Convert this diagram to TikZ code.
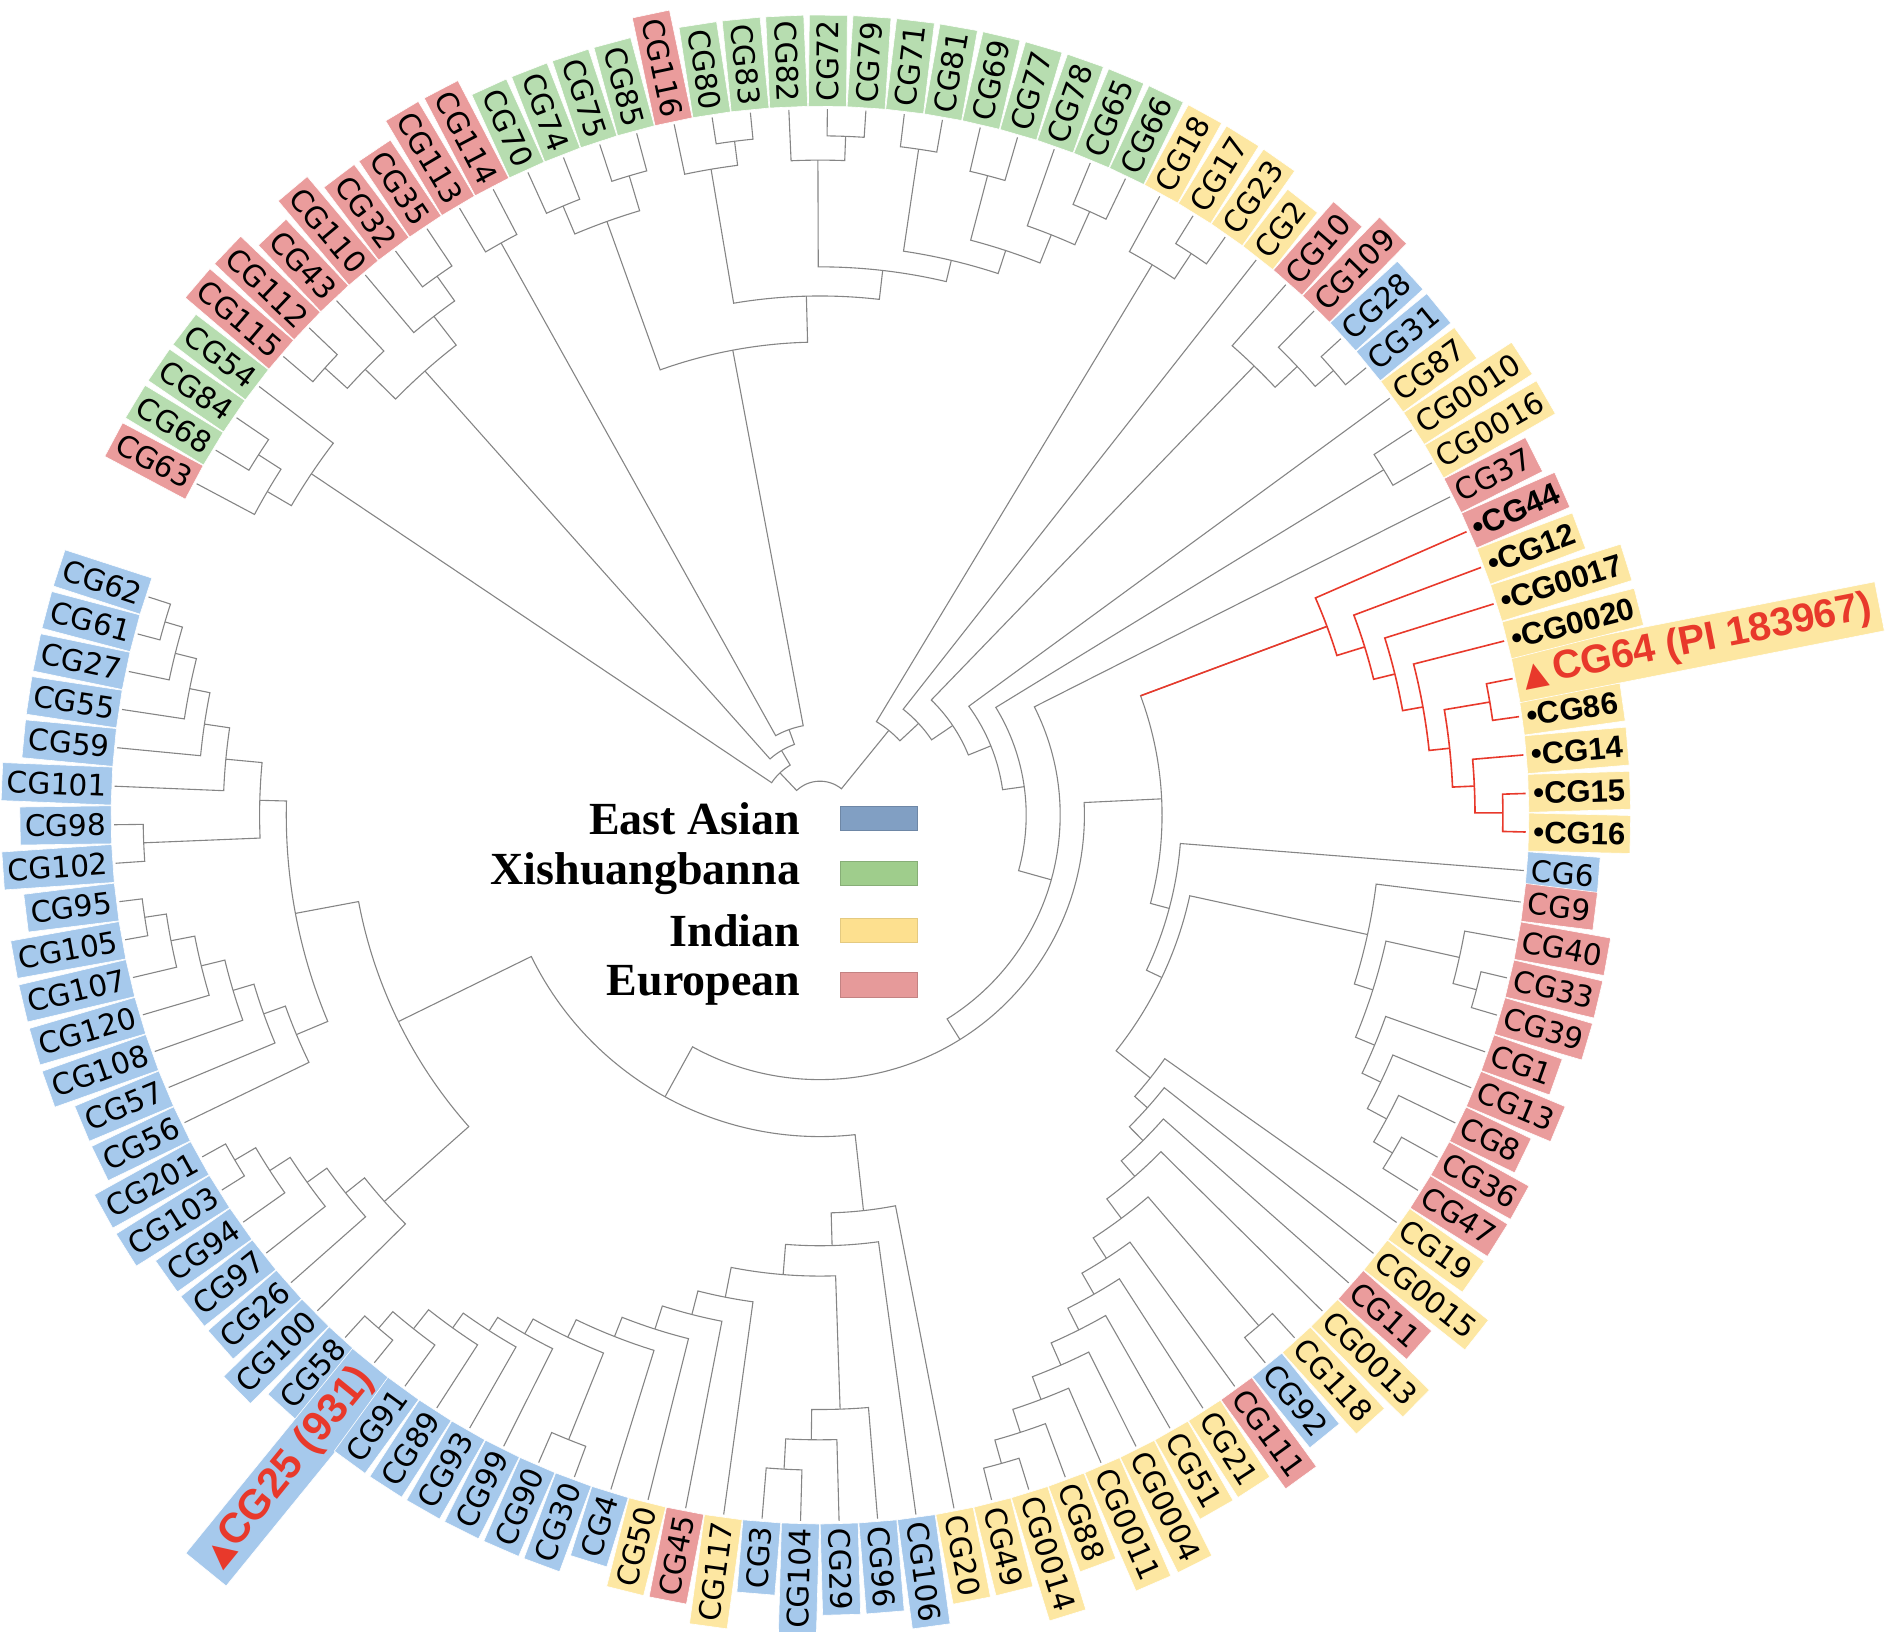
\documentclass[tikz,border=0pt]{standalone}
\usepackage{fontspec}
\newfontfamily\labf{DejaVu Sans}
\newfontfamily\bldf{Liberation Sans}
\newfontfamily\legf{Liberation Serif}
\definecolor{cBlue}{HTML}{A6C9EC}
\definecolor{cGreen}{HTML}{B7DDB0}
\definecolor{cYel}{HTML}{FDE7A2}
\definecolor{cRed}{HTML}{EA9C9C}
\definecolor{sBlue}{HTML}{819FC3}
\definecolor{sGreen}{HTML}{9FCD8C}
\definecolor{sYel}{HTML}{FDE08F}
\definecolor{sRed}{HTML}{E69A9A}
\definecolor{tGray}{HTML}{858585}
\definecolor{tRed}{HTML}{E8392B}
\def\uu{0.6065pt}
\newcommand\setA[2]{\expandafter\xdef\csname tA#1\endcsname{#2}}
\newcommand\getA[1]{\csname tA#1\endcsname}
\newcommand\setR[2]{\expandafter\xdef\csname tR#1\endcsname{#2}}
\newcommand\getR[1]{\csname tR#1\endcsname}
% leaf: [opts]{index}{text}{fill}
\newcommand\tlf[4][]{%
  \ifnum#2<23 \pgfmathsetmacro\lfA{355.5+(#2-1)*3.13}%
  \else\ifnum#2<52 \pgfmathsetmacro\lfA{-4.5+(#2-1)*3.13}%
  \else\pgfmathsetmacro\lfA{162+(#2-52)*3.13}\fi\fi
  \setA{L#2}{\lfA}\setR{L#2}{582}%
  \pgfmathsetmacro\lfm{mod(\lfA+720,360)}%
  \pgfmathsetmacro\lfr{\lfm+180}%
  \ifdim\lfm pt>90pt\relax
    \ifdim\lfm pt<270pt\relax
      \node[lab,fill=#4,rotate=\lfr,anchor=east,#1] (lab#2) at (\lfm:584) {#3};%
    \else
      \node[lab,fill=#4,rotate=\lfm,anchor=west,#1] (lab#2) at (\lfm:584) {#3};%
    \fi
  \else
    \node[lab,fill=#4,rotate=\lfm,anchor=west,#1] (lab#2) at (\lfm:584) {#3};%
  \fi
}
% internal node: [style]{name}{radius}{child1}{child2}
\newcommand\tnd[5][tl]{%
  \pgfmathsetmacro\ndA{(\getA{#4}+\getA{#5})/2}%
  \setA{#2}{\ndA}\setR{#2}{#3}%
  \draw[#1] (\getA{#4}:\getR{#4}) -- (\getA{#4}:#3)
     arc[start angle=\getA{#4}, end angle=\getA{#5}, radius=#3*\uu]
     -- (\getA{#5}:\getR{#5});%
}
\begin{document}
\begin{tikzpicture}[x=\uu,y=\uu,
  tl/.style={draw=tGray, line width=0.55pt},
  tlr/.style={draw=tRed, line width=0.8pt},
  lab/.style={font=\labf\fontsize{14.8}{16}\selectfont, inner xsep=2.5pt, inner ysep=0pt,
     minimum height=19pt, draw=white, line width=0.3pt, text=black},
  bl/.style={font=\bldf\bfseries\fontsize{15.5}{17}\selectfont},
  big64/.style={font=\bldf\bfseries\fontsize{20}{22}\selectfont, text=tRed, minimum height=25pt, inner xsep=4pt},
  big25/.style={font=\bldf\bfseries\fontsize{21}{23}\selectfont, text=tRed, minimum height=26pt, inner xsep=5pt},
  leg/.style={font=\legf\bfseries\fontsize{23}{25}\selectfont, inner sep=0pt, anchor=east},
  sw/.style={minimum width=38.2pt, minimum height=12.1pt, inner sep=0pt, line width=0.4pt}]
\useasboundingbox (-676,-673) rectangle (892,672);
% ---------- leaves ----------
\tlf{1}{CG6}{cBlue}
\tlf[bl]{2}{\textbullet CG16}{cYel}
\tlf[bl]{3}{\textbullet CG15}{cYel}
\tlf[bl]{4}{\textbullet CG14}{cYel}
\tlf[bl]{5}{\textbullet CG86}{cYel}
\tlf[big64]{6}{{\labf\fontsize{16}{16}\selectfont ▲}\hspace{3pt}CG64 (PI 183967)}{cYel}
\tlf[bl]{7}{\textbullet CG0020}{cYel}
\tlf[bl]{8}{\textbullet CG0017}{cYel}
\tlf[bl]{9}{\textbullet CG12}{cYel}
\tlf[bl]{10}{\textbullet CG44}{cRed}
\tlf{11}{CG37}{cRed}
\tlf{12}{CG0016}{cYel}
\tlf{13}{CG0010}{cYel}
\tlf{14}{CG87}{cYel}
\tlf{15}{CG31}{cBlue}
\tlf{16}{CG28}{cBlue}
\tlf{17}{CG109}{cRed}
\tlf{18}{CG10}{cRed}
\tlf{19}{CG2}{cYel}
\tlf{20}{CG23}{cYel}
\tlf{21}{CG17}{cYel}
\tlf{22}{CG18}{cYel}
\tlf{23}{CG66}{cGreen}
\tlf{24}{CG65}{cGreen}
\tlf{25}{CG78}{cGreen}
\tlf{26}{CG77}{cGreen}
\tlf{27}{CG69}{cGreen}
\tlf{28}{CG81}{cGreen}
\tlf{29}{CG71}{cGreen}
\tlf{30}{CG79}{cGreen}
\tlf{31}{CG72}{cGreen}
\tlf{32}{CG82}{cGreen}
\tlf{33}{CG83}{cGreen}
\tlf{34}{CG80}{cGreen}
\tlf{35}{CG116}{cRed}
\tlf{36}{CG85}{cGreen}
\tlf{37}{CG75}{cGreen}
\tlf{38}{CG74}{cGreen}
\tlf{39}{CG70}{cGreen}
\tlf{40}{CG114}{cRed}
\tlf{41}{CG113}{cRed}
\tlf{42}{CG35}{cRed}
\tlf{43}{CG32}{cRed}
\tlf{44}{CG110}{cRed}
\tlf{45}{CG43}{cRed}
\tlf{46}{CG112}{cRed}
\tlf{47}{CG115}{cRed}
\tlf{48}{CG54}{cGreen}
\tlf{49}{CG84}{cGreen}
\tlf{50}{CG68}{cGreen}
\tlf{51}{CG63}{cRed}
\tlf{52}{CG62}{cBlue}
\tlf{53}{CG61}{cBlue}
\tlf{54}{CG27}{cBlue}
\tlf{55}{CG55}{cBlue}
\tlf{56}{CG59}{cBlue}
\tlf{57}{CG101}{cBlue}
\tlf{58}{CG98}{cBlue}
\tlf{59}{CG102}{cBlue}
\tlf{60}{CG95}{cBlue}
\tlf{61}{CG105}{cBlue}
\tlf{62}{CG107}{cBlue}
\tlf{63}{CG120}{cBlue}
\tlf{64}{CG108}{cBlue}
\tlf{65}{CG57}{cBlue}
\tlf{66}{CG56}{cBlue}
\tlf{67}{CG201}{cBlue}
\tlf{68}{CG103}{cBlue}
\tlf{69}{CG94}{cBlue}
\tlf{70}{CG97}{cBlue}
\tlf{71}{CG26}{cBlue}
\tlf{72}{CG100}{cBlue}
\tlf{73}{CG58}{cBlue}
\tlf[big25]{74}{{\labf\fontsize{16}{16}\selectfont ▲}CG25 (931)}{cBlue}
\tlf{75}{CG91}{cBlue}
\tlf{76}{CG89}{cBlue}
\tlf{77}{CG93}{cBlue}
\tlf{78}{CG99}{cBlue}
\tlf{79}{CG90}{cBlue}
\tlf{80}{CG30}{cBlue}
\tlf{81}{CG4}{cBlue}
\tlf{82}{CG50}{cYel}
\tlf{83}{CG45}{cRed}
\tlf{84}{CG117}{cYel}
\tlf{85}{CG3}{cBlue}
\tlf{86}{CG104}{cBlue}
\tlf{87}{CG29}{cBlue}
\tlf{88}{CG96}{cBlue}
\tlf{89}{CG106}{cBlue}
\tlf{90}{CG20}{cYel}
\tlf{91}{CG49}{cYel}
\tlf{92}{CG0014}{cYel}
\tlf{93}{CG88}{cYel}
\tlf{94}{CG0011}{cYel}
\tlf{95}{CG0004}{cYel}
\tlf{96}{CG51}{cYel}
\tlf{97}{CG21}{cYel}
\tlf{98}{CG111}{cRed}
\tlf{99}{CG92}{cBlue}
\tlf{100}{CG118}{cYel}
\tlf{101}{CG0013}{cYel}
\tlf{102}{CG11}{cRed}
\tlf{103}{CG0015}{cYel}
\tlf{104}{CG19}{cYel}
\tlf{105}{CG47}{cRed}
\tlf{106}{CG36}{cRed}
\tlf{107}{CG8}{cRed}
\tlf{108}{CG13}{cRed}
\tlf{109}{CG1}{cRed}
\tlf{110}{CG39}{cRed}
\tlf{111}{CG33}{cRed}
\tlf{112}{CG40}{cRed}
\tlf{113}{CG9}{cRed}
% ---------- tree ----------
% red clade
\tnd[tlr]{h1}{563}{L3}{L2}
\tnd[tlr]{g1}{540}{L4}{h1}
\tnd[tlr]{f1}{560}{L6}{L5}
\tnd[tlr]{e1}{522}{f1}{g1}
\tnd[tlr]{d1}{505}{L7}{e1}
\tnd[tlr]{c1}{488}{L8}{d1}
\tnd[tlr]{b1}{470}{L9}{c1}
\tnd[tlr]{a1}{446}{L10}{b1}
% European cluster
\tnd{E7}{548}{L106}{L105}
\tnd{E6}{530}{L107}{E7}
\tnd{E5}{512}{L108}{E6}
\tnd{E4}{495}{L109}{E5}
\tnd{E3b}{560}{L111}{L110}
\tnd{E3}{540}{L112}{E3b}
\tnd{E2}{478}{E3}{E4}
\tnd{E1}{462}{L113}{E2}
% bottom right ladder
\tnd{u1}{555}{L91}{L92}
\tnd{u2}{535}{u1}{L93}
\tnd{u3}{515}{u2}{L94}
\tnd{u4}{495}{u3}{L95}
\tnd{u5}{475}{u4}{L96}
\tnd{u6}{455}{u5}{L97}
\tnd{u7}{435}{u6}{L98}
\tnd{v1}{555}{L99}{L100}
\tnd{u8}{415}{u7}{v1}
\tnd{u9}{395}{u8}{L101}
\tnd{u10}{378}{u9}{L102}
\tnd{u11}{362}{u10}{L103}
\tnd{u12}{348}{u11}{L104}
\tnd{W}{312}{E1}{u12}
\tnd{Z}{298}{L1}{W}
\tnd{Y}{282}{a1}{Z}
\draw[tlr] (\getA{a1}:282) -- (\getA{a1}:446);
% bottom
\tnd{b1a}{540}{L85}{L86}
\tnd{b1b}{515}{b1a}{L87}
\tnd{b1c}{490}{b1b}{L88}
\tnd{q1}{558}{L73}{L74}
\tnd{q2}{540}{q1}{L75}
\tnd{q3}{520}{q2}{L76}
\tnd{s1}{555}{L79}{L80}
\tnd{K10}{505}{q3}{L77}
\tnd{K9}{492}{K10}{L78}
\tnd{K8}{478}{K9}{s1}
\tnd{K7}{462}{K8}{L81}
\tnd{K6}{445}{K7}{L82}
\tnd{K5}{425}{K6}{L83}
\tnd{K4}{405}{K5}{L84}
\tnd{K3}{380}{K4}{b1c}
\tnd{K2}{355}{K3}{L89}
\tnd{K1}{328}{K2}{L90}
% left
\tnd{l1}{563}{L52}{L53}
\tnd{l2}{548}{l1}{L54}
\tnd{l3}{530}{l2}{L55}
\tnd{l4}{513}{l3}{L56}
\tnd{l5}{492}{l4}{L57}
\tnd{l6}{558}{L58}{L59}
\tnd{N1}{462}{l5}{l6}
\tnd{m1}{563}{L60}{L61}
\tnd{m2}{545}{m1}{L62}
\tnd{m3}{525}{m2}{L63}
\tnd{m4}{505}{m3}{L64}
\tnd{m5}{487}{m4}{L65}
\tnd{m6}{468}{m5}{L66}
\tnd{N2}{440}{N1}{m6}
\tnd{p1}{560}{L67}{L68}
\tnd{p2}{540}{p1}{L69}
\tnd{p3}{520}{p2}{L70}
\tnd{p4}{500}{p3}{L71}
\tnd{p5}{480}{p4}{L72}
\tnd{N3}{387}{N2}{p5}
\tnd{V}{265}{N3}{K1}
\tnd{X}{218}{V}{Y}
% right upper
\tnd{n6}{198}{X}{L11}
\tnd{oa}{545}{L12}{L13}
\tnd{n5}{170}{n6}{oa}
\tnd{n4}{152}{n5}{L14}
\tnd{ka}{560}{L15}{L16}
\tnd{kb}{540}{ka}{L17}
\tnd{kc}{515}{kb}{L18}
\tnd{n3}{132}{n4}{kc}
\tnd{n2}{111}{n3}{L19}
\tnd{ra}{555}{L20}{L21}
\tnd{rb}{530}{ra}{L22}
\tnd{n1}{90}{n2}{rb}
% upper left
\tnd{ga}{545}{L24}{L23}
\tnd{gb}{515}{L25}{ga}
\tnd{gc}{545}{L26}{L27}
\tnd{gd}{490}{gc}{gb}
\tnd{ge}{555}{L28}{L29}
\tnd{gf}{470}{ge}{gd}
\tnd{gg}{560}{L30}{L31}
\tnd{gh}{540}{L32}{gg}
\tnd{gi}{452}{gh}{gf}
\tnd{gj}{560}{L33}{L34}
\tnd{gk}{540}{L35}{gj}
\tnd{gl}{428}{gk}{gi}
\tnd{ca}{550}{L36}{L37}
\tnd{cb}{545}{L38}{L39}
\tnd{cc}{520}{cb}{ca}
\tnd{G0}{390}{gl}{cc}
\tnd{ea}{540}{L40}{L41}
\tnd{eb}{545}{L42}{L43}
\tnd{ec}{520}{eb}{L44}
\tnd{ed}{550}{L46}{L47}
\tnd{ee}{525}{L45}{ed}
\tnd{ef}{490}{ec}{ee}
\tnd{ha}{550}{L49}{L50}
\tnd{hb}{528}{ha}{L51}
\tnd{hc}{505}{L48}{hb}
\tnd{UL3}{75}{ea}{G0}
\tnd{UL2}{62}{ef}{UL3}
\tnd{UL1}{48}{hc}{UL2}
\pgfmathsetmacro\tmpn{\getA{n1}-360}
\setA{n1x}{\tmpn}\setR{n1x}{90}
\tnd{root}{28}{UL1}{n1x}
% ---------- legend ----------
\node[leg] (lg1) at (-16,-3) {East Asian};
\node[leg] (lg2) at (-16,-48) {Xishuangbanna};
\node[leg] (lg3) at (-16,-95) {Indian};
\node[leg] (lg4) at (-16,-140) {European};
\node[sw, fill=sBlue, draw=sBlue!85!black] (sw1) at (48.5,-3) {};
\node[sw, fill=sGreen, draw=sGreen!85!black] (sw2) at (48.5,-48) {};
\node[sw, fill=sYel, draw=sYel!90!black] (sw3) at (48.5,-95) {};
\node[sw, fill=sRed, draw=sRed!85!black] (sw4) at (48.5,-140) {};
\end{tikzpicture}
\end{document}
